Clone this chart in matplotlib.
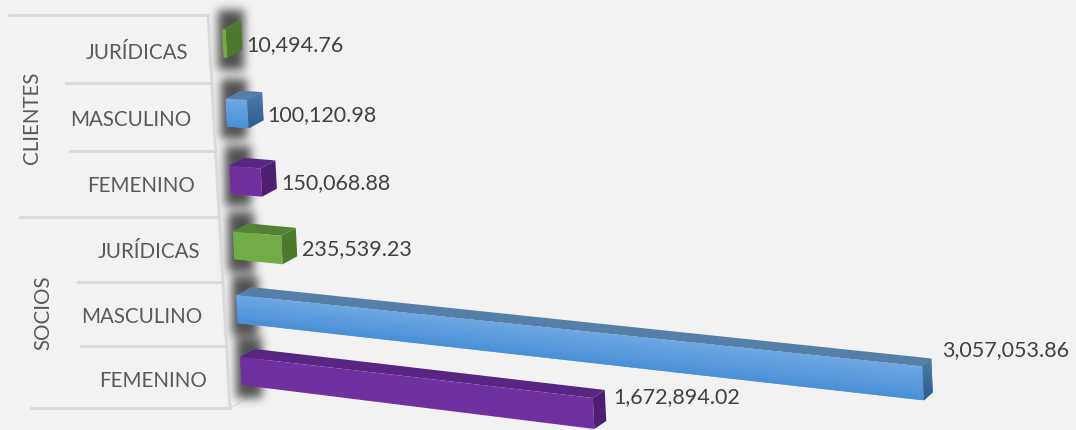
import numpy as np
import matplotlib
matplotlib.use("Agg")
import matplotlib.pyplot as plt
from matplotlib.patches import Polygon
from matplotlib.colors import to_rgb

plt.rcParams["font.family"] = ["Lato", "DejaVu Sans"]

# ---------- DATA (bottom row first) ----------
CATEGORIES = ["FEMENINO", "MASCULINO", "JURÍDICAS", "FEMENINO", "MASCULINO", "JURÍDICAS"]
GROUPS = ["SOCIOS", "CLIENTES"]
VALUES = [1672894.02, 3057053.86, 235539.23, 150068.88, 100120.98, 10494.76]

# front-top, front-bottom, top face, side-top, side-bottom
PURPLE = ("#7030a0", "#7030a0", "#582682", "#4c1f72", "#4c1f72")
BLUE = ("#70a9e4", "#4a90d6", "#557fa8", "#4f7ca8", "#2b5f8e")
GREEN = ("#70ad47", "#70ad47", "#548235", "#4b7a2e", "#4b7a2e")
COLORS = [PURPLE, BLUE, GREEN, PURPLE, BLUE, GREEN]

BG = "#f2f2f2"
GRID = "#d9d9d9"
TEXT = "#404040"
LABEL = "#595959"
W, H = 1076, 430


# ---------- FAKE 3D PROJECTION ----------
def base_x(row):
    return 240 - 3.6 * row


def base_y(row):
    return 357 - 61 * row - 0.9 * row ** 2


def length_px(v):
    if v <= 0:
        return 0.0
    return 2 + 0.000195 * v / (1 - 4.2e-8 * v)


def project(v, row, up=0.0, depth=0.0):
    """v along the bar, up 0=top of front face 1=bottom, depth 0=front 1=back"""
    u = length_px(v)
    slope = 0.116 - 0.012 * row
    height = 28 * (1 + 0.00031 * u)
    x = base_x(row) + u + 15 * depth * (1 - 0.00059 * u) + 1.5 * up
    y = base_y(row) + slope * u + height * up - 8 * depth
    return x, y


def shadow_layer():
    # soft shadow the bars throw on the back wall
    mask = np.zeros((H, W))
    for row in range(len(VALUES)):
        x0, y0 = int(base_x(row)), int(base_y(row))
        mask[max(y0 - 19, 0):y0 + 41, x0 - 4:x0 + 22] = 1
    kernel = np.ones(9) / 9
    for _ in range(3):
        mask = np.apply_along_axis(lambda m: np.convolve(m, kernel, mode="same"), 0, mask)
        mask = np.apply_along_axis(lambda m: np.convolve(m, kernel, mode="same"), 1, mask)
    img = np.zeros((H, W, 4))
    img[..., :3] = to_rgb("#404040")
    img[..., 3] = mask * 0.9
    return img


def draw_front(ax, v, row, colors):
    corners = [project(0, row, 0), project(v, row, 0), project(v, row, 1), project(0, row, 1)]
    poly = Polygon(corners, closed=True, facecolor=colors[0], edgecolor="none", zorder=3)
    ax.add_patch(poly)
    if colors[0] != colors[1]:
        xs = [c[0] for c in corners]
        ys = [c[1] for c in corners]
        x1, x2, y1, y2 = min(xs), max(xs), min(ys), max(ys)
        yy, xx = np.mgrid[y1:y2:300j, x1:x2:300j]
        frac = (xx - x1) / max(x2 - x1, 1)
        top = corners[0][1] + (corners[1][1] - corners[0][1]) * frac
        bot = corners[3][1] + (corners[2][1] - corners[3][1]) * frac
        t = np.clip((yy - top) / (bot - top), 0, 1)[..., None]
        img = np.array(to_rgb(colors[0])) * (1 - t) + np.array(to_rgb(colors[1])) * t
        im = ax.imshow(img, extent=(x1, x2, y2, y1), zorder=3.5, aspect="auto")
        im.set_clip_path(poly)


def draw_bar(ax, v, row, colors):
    top = [project(0, row, 0), project(v, row, 0), project(v, row, 0, 1), project(0, row, 0, 1)]
    ax.add_patch(Polygon(top, closed=True, facecolor=colors[2], edgecolor="none", zorder=3))
    draw_front(ax, v, row, colors)
    side = [project(v, row, 0), project(v, row, 0, 1), project(v, row, 1, 1), project(v, row, 1)]
    poly = Polygon(side, closed=True, facecolor=colors[3], edgecolor="none", zorder=3)
    ax.add_patch(poly)
    if colors[3] != colors[4]:
        xs = [c[0] for c in side]
        ys = [c[1] for c in side]
        t = np.linspace(0, 1, 100)[:, None, None]
        img = np.array(to_rgb(colors[3]))[None, None, :] * (1 - t) + np.array(to_rgb(colors[4]))[None, None, :] * t
        im = ax.imshow(img, extent=(min(xs), max(xs), max(ys), min(ys)), zorder=3.5, aspect="auto")
        im.set_clip_path(poly)


fig = plt.figure(figsize=(W / 100, H / 100), dpi=100, facecolor=BG)
ax = fig.add_axes([0, 0, 1, 1])
ax.set_facecolor(BG)
ax.imshow(shadow_layer(), extent=(0, W, H, 0), zorder=1, aspect="auto")

# multi-level axis lines
ax.plot([208, 230], [15, 408], color=GRID, lw=2, zorder=2)
ax.plot([230, 248], [408, 398], color="#e0e0e0", lw=1, zorder=0.5)
for x1, x2, y in [(9, 208, 15), (66, 212, 83), (70, 215, 151), (20, 219, 217),
                  (78, 222, 282), (81, 226, 346), (31, 230, 408)]:
    ax.plot([x1, x2], [y, y], color=GRID, lw=2, zorder=2)

for row, (v, c) in enumerate(zip(VALUES, COLORS)):
    draw_bar(ax, v, row, c)
    bx, by = project(v, row, 0, 1)
    u = length_px(v)
    ax.text(bx + 5.5 + 0.008 * u, by + 24 - 0.047 * u, f"{v:,.2f}", color=TEXT,
            fontsize=15.5, ha="left", va="center", zorder=5)

for x, y, name in zip([153, 142, 149, 141, 131, 137], [381, 317, 252, 186, 120, 53], CATEGORIES):
    ax.text(x, y, name, color=LABEL, fontsize=14.8, ha="center", va="center", zorder=5)

for x, y, name in zip([43, 32], [313, 118], GROUPS):
    ax.text(x, y, name, color=LABEL, fontsize=14.8, ha="center", va="center", rotation=90, zorder=5)

ax.set_xlim(0, W)
ax.set_ylim(H, 0)
ax.axis("off")
fig.savefig("out.png", dpi=100, facecolor=BG)
